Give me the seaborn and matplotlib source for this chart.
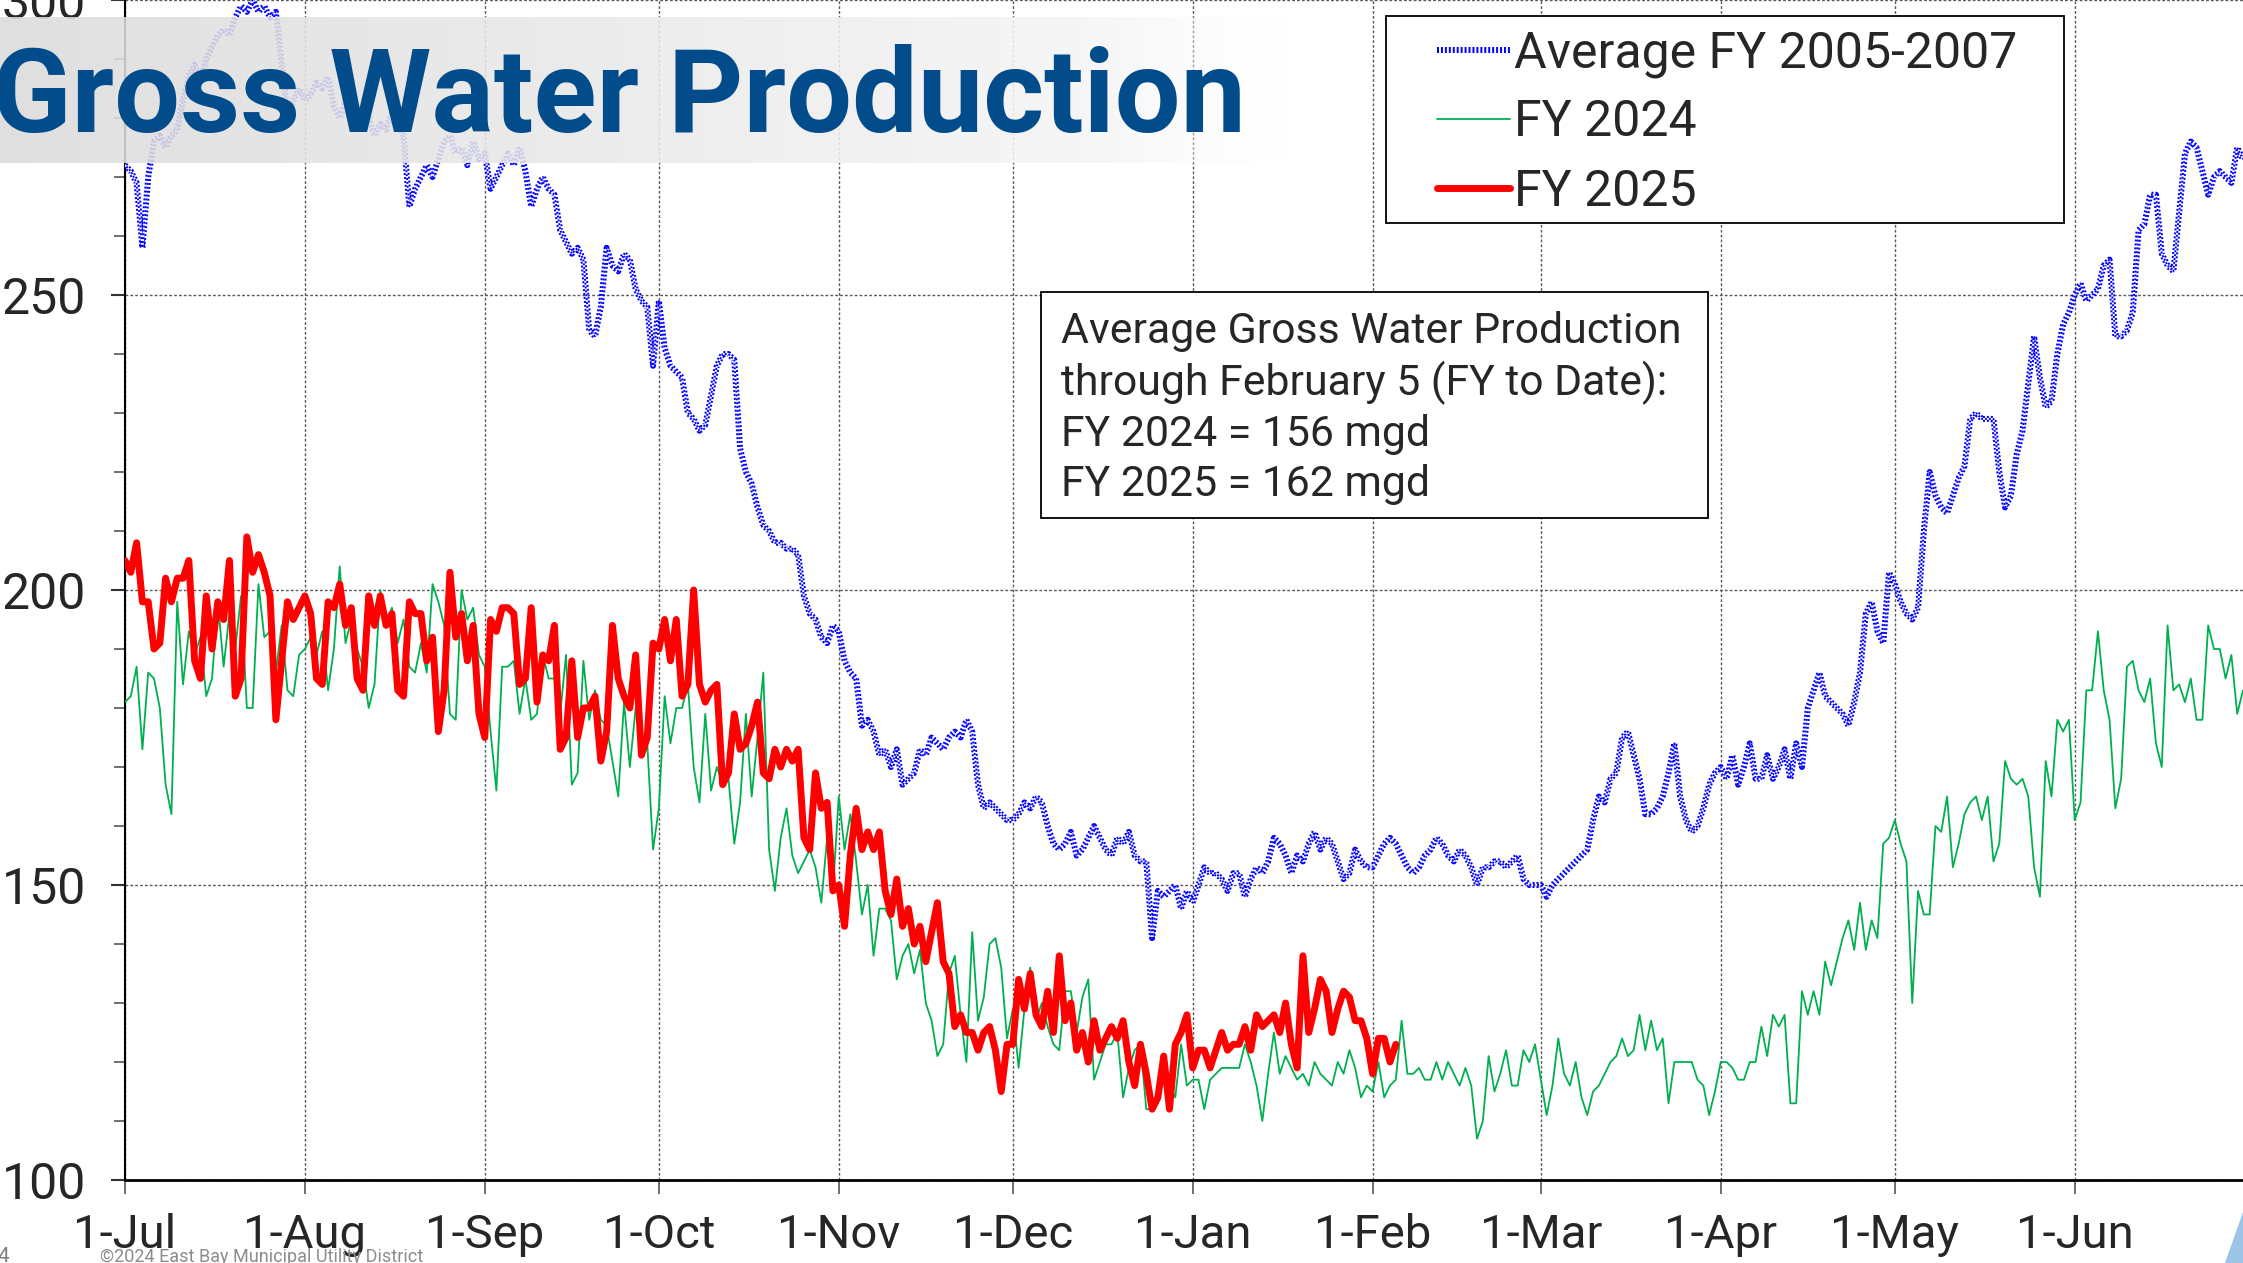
import numpy as np
import pandas as pd
import matplotlib
matplotlib.use("Agg")
import matplotlib.pyplot as plt
import matplotlib.dates as mdates
from matplotlib.ticker import MultipleLocator
from matplotlib.patches import Rectangle, Polygon
from matplotlib import font_manager as fm
import seaborn as sns

# daily gross water production (mgd), fiscal year Jul 1 - Jun 30, one list per month
avg_0507 = (
    [272, 271, 269, 258, 270, 276, 277, 275, 277, 278, 283, 287, 289, 286, 290, 292,
     294, 295, 294, 297, 299, 298, 300, 298, 299, 297, 298, 289, 281, 283, 285]  # Jul
    + [283, 284, 286, 285, 287, 282, 280, 283, 279, 281, 278, 280, 277, 279, 278, 281,
       279, 277, 265, 268, 270, 272, 270, 273, 276, 277, 274, 275, 272, 276, 273]  # Aug
    + [274, 268, 270, 272, 274, 272, 275, 271, 265, 268, 270, 268, 267, 261, 259, 257,
       258, 256, 244, 243, 248, 258, 255, 254, 257, 256, 251, 249, 248, 238]  # Sep
    + [249, 241, 238, 237, 236, 230, 229, 227, 228, 233, 238, 240, 240, 239, 224, 220,
       218, 214, 211, 210, 208, 208, 207, 207, 206, 199, 196, 195, 192, 191, 194]  # Oct
    + [193, 188, 186, 185, 177, 178, 176, 172, 173, 170, 173, 167, 168, 169, 173, 172,
       175, 174, 173, 175, 176, 175, 178, 176, 167, 163, 164, 163, 162, 161]  # Nov
    + [161, 162, 164, 163, 165, 164, 160, 157, 156, 157, 159, 155, 156, 158, 160, 158,
       156, 155, 158, 157, 159, 155, 154, 154, 141, 149, 148, 149, 150, 146, 149]  # Dec
    + [147, 150, 153, 152, 152, 151, 149, 152, 152, 148, 151, 153, 152, 154, 158, 157,
       155, 152, 155, 154, 157, 159, 156, 158, 157, 154, 151, 152, 156, 154, 153]  # Jan
    + [153, 155, 157, 158, 157, 155, 153, 152, 153, 155, 156, 158, 157, 155, 154, 156,
       155, 153, 150, 153, 153, 154, 154, 153, 154, 155, 151, 150, 150]  # Feb
    + [150, 148, 150, 151, 152, 153, 154, 155, 156, 161, 165, 164, 168, 169, 175, 176,
       172, 168, 162, 162, 163, 165, 169, 174, 165, 161, 159, 160, 163, 167, 169]  # Mar
    + [170, 168, 172, 167, 170, 174, 168, 168, 172, 168, 170, 173, 168, 174, 170, 180,
       183, 186, 182, 181, 180, 179, 177, 181, 186, 196, 198, 193, 191, 203]  # Apr
    + [201, 198, 196, 195, 197, 210, 220, 216, 214, 213, 216, 219, 221, 229, 230, 229,
       229, 229, 220, 214, 216, 223, 227, 235, 243, 236, 231, 232, 240, 245, 247]  # May
    + [250, 252, 249, 250, 251, 255, 256, 243, 243, 244, 247, 261, 262, 267, 267, 257,
       255, 254, 264, 274, 276, 275, 271, 267, 270, 271, 270, 269, 275, 273]  # Jun
)

fy2024 = (
    [181, 182, 187, 173, 186, 185, 180, 167, 162, 198, 184, 193, 189, 192, 182, 185,
     198, 187, 196, 190, 199, 180, 180, 201, 192, 193, 186, 194, 183, 182, 189]
    + [190, 192, 189, 193, 183, 190, 204, 191, 195, 190, 187, 180, 184, 200, 194, 197,
       191, 195, 187, 186, 191, 186, 201, 198, 194, 179, 178, 200, 195, 197, 189]
    + [187, 176, 166, 187, 187, 188, 179, 185, 178, 179, 189, 185, 185, 179, 189, 167,
       169, 188, 178, 183, 178, 177, 171, 165, 181, 170, 180, 175, 174, 156]
    + [163, 182, 174, 180, 180, 184, 170, 164, 179, 166, 170, 167, 168, 157, 164, 179,
       165, 175, 186, 156, 149, 158, 163, 155, 152, 154, 156, 153, 147, 158, 149]
    + [165, 156, 162, 154, 145, 150, 138, 146, 146, 144, 134, 138, 140, 135, 139, 130,
       127, 121, 123, 135, 138, 128, 120, 142, 127, 131, 140, 141, 136, 124]
    + [129, 119, 129, 136, 127, 130, 126, 123, 122, 132, 132, 125, 131, 134, 117, 120,
       123, 123, 125, 114, 119, 122, 123, 112, 112, 113, 120, 116, 114, 123, 116]
    + [117, 117, 112, 117, 118, 119, 119, 119, 119, 123, 120, 116, 110, 118, 125, 118,
       121, 119, 117, 118, 116, 120, 118, 117, 116, 120, 118, 122, 119, 114, 116]
    + [115, 120, 114, 116, 117, 127, 118, 118, 119, 117, 117, 120, 117, 120, 118, 116,
       119, 116, 107, 110, 121, 115, 118, 122, 116, 116, 122, 120, 123]
    + [117, 111, 116, 124, 118, 116, 120, 114, 111, 115, 116, 118, 120, 121, 124, 121,
       122, 128, 122, 127, 122, 124, 113, 120, 120, 120, 120, 117, 116, 111, 115]
    + [120, 120, 119, 117, 117, 120, 120, 126, 121, 128, 126, 128, 113, 113, 132, 128,
       132, 128, 137, 133, 137, 141, 144, 139, 147, 139, 144, 141, 157, 158]
    + [161, 157, 154, 130, 149, 145, 145, 160, 159, 165, 153, 157, 162, 164, 165, 161,
       165, 154, 157, 171, 168, 167, 168, 165, 153, 148, 171, 165, 178, 176, 178]
    + [161, 164, 183, 183, 193, 183, 178, 163, 168, 187, 188, 183, 181, 185, 174, 170,
       194, 183, 184, 181, 185, 178, 178, 194, 190, 190, 185, 189, 179, 183]
)

# FY 2025 to date (Jul 1 - Feb 5)
fy2025 = (
    [205, 203, 208, 198, 198, 190, 191, 202, 198, 202, 202, 205, 188, 185, 199, 190,
     198, 195, 205, 182, 185, 209, 203, 206, 203, 199, 178, 188, 198, 195, 197]
    + [199, 196, 185, 184, 198, 197, 201, 194, 197, 185, 183, 199, 194, 199, 194, 196,
       183, 182, 198, 196, 196, 188, 192, 176, 183, 203, 192, 196, 188, 194, 179]
    + [175, 195, 193, 197, 197, 196, 184, 185, 197, 181, 189, 188, 194, 173, 175, 188,
       175, 180, 180, 182, 171, 176, 194, 185, 182, 180, 189, 172, 175, 191]
    + [190, 195, 188, 195, 182, 184, 200, 184, 181, 183, 184, 167, 169, 179, 173, 174,
       177, 181, 169, 168, 173, 170, 173, 171, 173, 158, 156, 169, 163, 164, 149]
    + [150, 143, 155, 163, 156, 159, 156, 159, 149, 145, 151, 143, 146, 140, 143, 137,
       142, 147, 137, 135, 126, 128, 125, 125, 122, 125, 126, 122, 115, 123]
    + [123, 134, 129, 135, 128, 126, 132, 125, 138, 127, 130, 122, 125, 120, 127, 122,
       124, 126, 124, 127, 120, 116, 123, 118, 112, 114, 121, 112, 123, 125, 128]
    + [119, 122, 122, 119, 122, 125, 122, 123, 123, 126, 122, 128, 126, 127, 128, 125,
       130, 123, 119, 138, 125, 129, 134, 132, 125, 129, 132, 131, 127, 127, 124]
    + [118, 124, 124, 120, 123]
)

series_labels = ["Average FY 2005-2007", "FY 2024", "FY 2025"]
box_text = ("Average Gross Water Production\n"
            "through February 5 (FY to Date):\n"
            "FY 2024 = 156 mgd\n"
            "FY 2025 = 162 mgd")

dates = pd.date_range("2023-07-01", "2024-06-30", freq="D")
df_avg = pd.DataFrame({"date": dates, "mgd": avg_0507})
df_24 = pd.DataFrame({"date": dates, "mgd": fy2024})
df_25 = pd.DataFrame({"date": dates[:len(fy2025)], "mgd": fy2025})

sns.set_style("white")
plt.rcParams["font.family"] = ["Roboto", "DejaVu Sans"]

installed = {f.name for f in fm.fontManager.ttflist}
narrow = "Liberation Sans Narrow" if "Liberation Sans Narrow" in installed else "Roboto"
xtick_size = 43 if narrow == "Liberation Sans Narrow" else 34
ytick_size = 43 if narrow == "Liberation Sans Narrow" else 36

W, H = 2243, 1263
fig = plt.figure(figsize=(W / 100, H / 100), dpi=100)


def fx(px):
    return px / W


def fy(py):
    return 1 - py / H


ax = fig.add_axes([fx(125), 83 / H, 1 - fx(125), 1180 / H])

# blue checkered band: dashed wide line + inverted dashed centre strip
sns.lineplot(data=df_avg, x="date", y="mgd", ax=ax, color="#0000FF", lw=4.3,
             linestyle=(0, (0.33, 0.33)), label=series_labels[0], zorder=3)
sns.lineplot(data=df_avg, x="date", y="mgd", ax=ax, color="white", lw=1.4,
             legend=False, zorder=3.1)
sns.lineplot(data=df_avg, x="date", y="mgd", ax=ax, color="#0000FF", lw=1.4,
             linestyle=(1.0, (1.0, 1.0)), legend=False, zorder=3.2)
sns.lineplot(data=df_24, x="date", y="mgd", ax=ax, color="#00B050", lw=1.3,
             label=series_labels[1], zorder=4)
sns.lineplot(data=df_25, x="date", y="mgd", ax=ax, color="#FF0000", lw=5,
             solid_joinstyle="round", solid_capstyle="round",
             label=series_labels[2], zorder=5)

ax.set_xlim(dates[0], dates[-1])
ax.set_ylim(100, 300)
ax.set_yticks(range(100, 301, 50))
ax.yaxis.set_minor_locator(MultipleLocator(10))
ax.xaxis.set_major_locator(mdates.MonthLocator())
ax.xaxis.set_major_formatter(mdates.DateFormatter("%-d-%b"))
ax.set_xlabel("")
ax.set_ylabel("")

ax.grid(True, which="major", color="#5a5a5a", linestyle=(0, (2, 1.5)), lw=1)
ax.set_axisbelow(True)
for side in ["top", "right"]:
    ax.spines[side].set_visible(False)
ax.spines["left"].set_color("black")
ax.spines["left"].set_linewidth(1.5)
ax.spines["bottom"].set_color("black")
ax.spines["bottom"].set_linewidth(2)

ax.tick_params(axis="y", which="major", direction="out", length=10, width=1.5,
               color="#333333", labelsize=ytick_size, pad=18, left=True,
               labelfontfamily=narrow)
ax.tick_params(axis="y", which="minor", direction="out", length=8, width=1.2,
               color="#555555", left=True)
ax.tick_params(axis="x", which="major", direction="out", length=10, width=1.2,
               color="#555555", labelsize=xtick_size, pad=14, bottom=True,
               labelfontfamily=narrow)

handles, labels = ax.get_legend_handles_labels()
ax.get_legend().remove()

# legend with its own frame
fig.add_artist(Rectangle((fx(1386), fy(223)), fx(2064) - fx(1386), fy(16) - fy(223),
                         transform=fig.transFigure, facecolor="white",
                         edgecolor="black", lw=1.3, zorder=4))
fig.legend(handles, labels, loc="upper left", bbox_to_anchor=(fx(1437), fy(29)),
           bbox_transform=fig.transFigure, frameon=False, fontsize=36,
           handlelength=1.45, handletextpad=0.1, labelspacing=0.42,
           borderpad=0, borderaxespad=0).set_zorder(5)

# note box
fig.add_artist(Rectangle((fx(1041), fy(518)), fx(1708) - fx(1041), fy(292) - fy(518),
                         transform=fig.transFigure, facecolor="white",
                         edgecolor="black", lw=1.3, zorder=4))
fig.text(fx(1061), fy(408), box_text, fontsize=30.8, va="center", ha="left",
         linespacing=1.28, zorder=5)

# title banner
bax = fig.add_axes([0, fy(163), fx(1290), (163 - 17) / H], zorder=2)
bax.set_axis_off()
g = np.linspace(0, 1, 256)
banner = np.zeros((1, 256, 4))
banner[..., 0] = banner[..., 1] = banner[..., 2] = 0.86 + 0.12 * g
banner[..., 3] = np.where(g < 0.85, 0.88, 0.88 * (1 - g) / 0.15)
bax.imshow(banner, aspect="auto", extent=(0, 1, 0, 1))
bax.set_xlim(0, 1)
bax.set_ylim(0, 1)

fig.text(fx(-8), fy(132), "Gross Water Production", fontsize=84, fontweight="bold",
         color="#024C8C", va="baseline", ha="left", zorder=6)

fig.text(fx(100), fy(1257), "\u00a92024 East Bay Municipal Utility District",
         fontsize=13, color="#8c8c8c", va="center", ha="left", zorder=6)
fig.text(fx(-3), fy(1256), "4", fontsize=15, color="#7f7f7f", va="center",
         ha="left", zorder=6)
fig.add_artist(Polygon([(fx(2243), fy(1212)), (fx(2243), fy(1263)), (fx(2225), fy(1263))],
                       closed=True, transform=fig.transFigure, facecolor="#9DC3E6",
                       edgecolor="none", zorder=6))

fig.savefig("out.png", dpi=100)
